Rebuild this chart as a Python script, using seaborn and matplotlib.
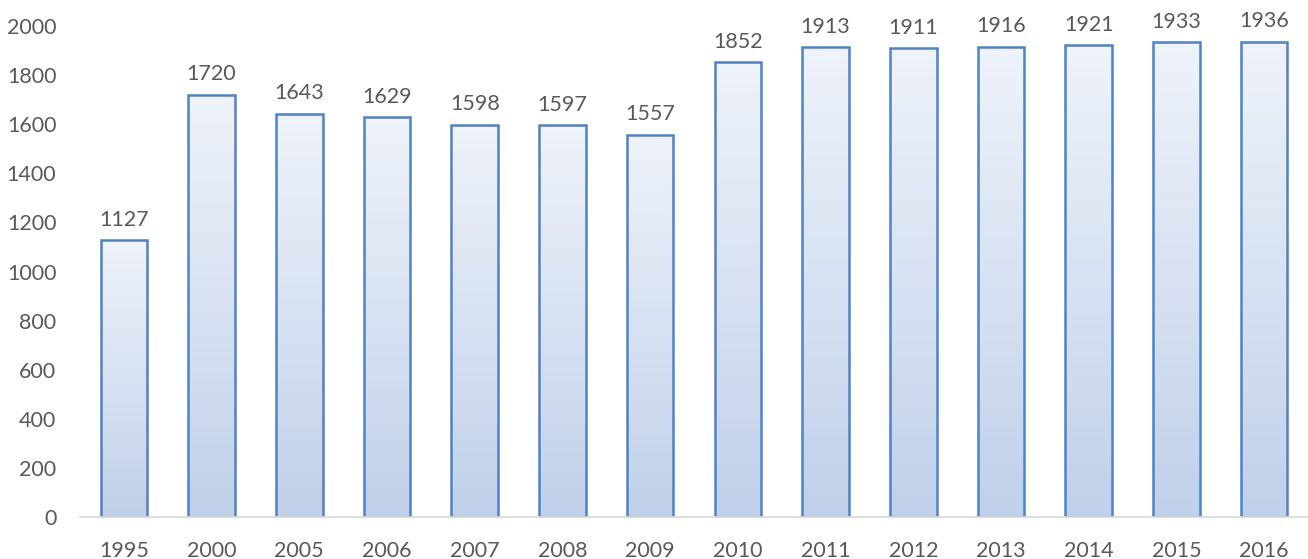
import numpy as np
import pandas as pd
import matplotlib
matplotlib.use("Agg")
import matplotlib.pyplot as plt
import seaborn as sns
from matplotlib.colors import LinearSegmentedColormap

# -------------------- Data --------------------
years = ["1995", "2000", "2005", "2006", "2007", "2008", "2009",
         "2010", "2011", "2012", "2013", "2014", "2015", "2016"]
population = [1127, 1720, 1643, 1629, 1598, 1597, 1557,
              1852, 1913, 1911, 1916, 1921, 1933, 1936]

df = pd.DataFrame({"year": years, "value": population})

sns.set_theme(style="white")
plt.rcParams["font.family"] = ["Lato", "DejaVu Sans"]

text_color = "#595959"
edge_color = "#5082c3"
grad = LinearSegmentedColormap.from_list("grad", ["#c0d0ea", "#eff3fa"])
fs = 15.5

fig = plt.figure(figsize=(13.08, 5.59), dpi=100)
ax = fig.add_axes([80 / 1308, 42 / 559, 1228 / 1308, 491 / 559])

sns.barplot(data=df, x="year", y="value", color="white", width=0.53,
            edgecolor=edge_color, linewidth=1.8, ax=ax)

# vertical gradient fill inside each bar
gradient = np.linspace(0, 1, 256).reshape(-1, 1)
for bar in ax.patches:
    x0, y0 = bar.get_x(), bar.get_y()
    w, h = bar.get_width(), bar.get_height()
    im = ax.imshow(gradient, cmap=grad, aspect="auto", origin="lower",
                   extent=[x0, x0 + w, y0, y0 + h], zorder=bar.get_zorder() - 0.1)
    im.set_clip_path(bar)
    bar.set_facecolor("none")
ax.set_xlim(-0.5, len(years) - 0.5)
ax.set_ylim(0, 2000)

for i, v in enumerate(population):
    ax.text(i, v + 42, str(v), ha="center", va="bottom",
            fontsize=fs, color=text_color)

ax.set_yticks(range(0, 2001, 200))
ax.tick_params(axis="both", length=0, labelsize=fs, labelcolor=text_color)
ax.tick_params(axis="x", pad=17)
ax.tick_params(axis="y", pad=17)
ax.set_xlabel("")
ax.set_ylabel("")
for side in ["top", "right", "left"]:
    ax.spines[side].set_visible(False)
ax.spines["bottom"].set_color("#d9d9d9")
ax.spines["bottom"].set_linewidth(1.2)

fig.savefig("out.png", dpi=100)
